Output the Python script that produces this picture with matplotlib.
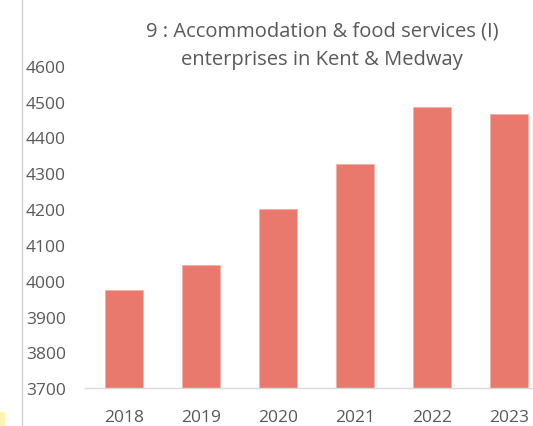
import matplotlib
matplotlib.use('Agg')
import matplotlib.pyplot as plt
from matplotlib.patches import Rectangle
from matplotlib.lines import Line2D

# data
years = ['2018', '2019', '2020', '2021', '2022', '2023']
enterprises = [3975, 4044, 4200, 4326, 4485, 4466]
yticks = [3700, 3800, 3900, 4000, 4100, 4200, 4300, 4400, 4500, 4600]

plt.rcParams['font.family'] = ['Open Sans', 'DejaVu Sans']
txt = '#595959'

fig = plt.figure(figsize=(5.33, 4.27), dpi=100)
# the plot area runs off the right edge in the original screenshot
ax = fig.add_axes([0.1602, 0.0883, 0.8672, 0.7555])

ax.bar(range(len(years)), enterprises, width=0.5, color='#E9786D', edgecolor='#F4B0A8', linewidth=0.6)
ax.set_xlim(-0.5, len(years) - 0.5)
ax.set_ylim(3700, 4600)
ax.set_yticks(yticks)
ax.set_xticks(range(len(years)))
ax.set_xticklabels(years)

for s in ['top', 'right', 'left']:
    ax.spines[s].set_visible(False)
ax.spines['bottom'].set_color('#D9D9D9')
ax.spines['bottom'].set_linewidth(1.0)
ax.tick_params(axis='both', length=0, labelsize=12.5, colors=txt)
ax.tick_params(axis='y', pad=14)
ax.tick_params(axis='x', pad=15)

fig.text(0.604, 0.893, '9 : Accommodation & food services (I)\nenterprises in Kent & Medway',
         ha='center', va='center', fontsize=14.5, color=txt, linespacing=1.6)

# thin frame line at the left and the little yellow mark bottom-left
fig.add_artist(Line2D([22.3 / 533, 22.3 / 533], [0, 1], color='#D0D0D0', linewidth=1.0))
fig.add_artist(Rectangle((0, 0), 3.5 / 533, 14 / 427, color='#FFF2B3', transform=fig.transFigure))

fig.savefig('out.png', dpi=100)
